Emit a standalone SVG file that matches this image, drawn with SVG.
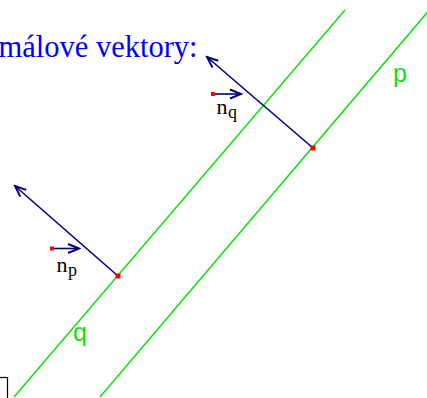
<svg xmlns="http://www.w3.org/2000/svg" width="427" height="398" viewBox="0 0 427 398">
<style>
.line{stroke:#11e011;stroke-width:1.5;fill:none}
.vec{stroke:#000080;stroke-width:1.6;fill:none}
.pt{fill:#ff0000}
.lbl{font-family:"Liberation Sans",Arial,sans-serif;font-size:25px;fill:#11e011}
.nm{font-family:"Liberation Serif","Times New Roman",serif;fill:#000}
.title{font-family:"Liberation Serif","Times New Roman",serif;font-size:30.5px;fill:#0000ff}
</style>
<defs>
<marker id="ah" markerUnits="userSpaceOnUse" markerWidth="16" markerHeight="16" refX="0" refY="0" viewBox="-14 -8 16 16" orient="auto">
<path d="M-11,-4.5 L0,0 L-11,4.5" stroke="#000080" stroke-width="2" fill="none"/>
</marker>
</defs>
<rect width="427" height="398" fill="#fff"/>
<g id="title"><text class="title" x="-1.5" y="57">málové vektory:</text></g>
<g id="lines">
<line id="line-q" class="line" x1="345" y1="10" x2="14" y2="397"/>
<line id="line-p" class="line" x1="437" y1="1" x2="100" y2="397"/>
</g>
<g id="connectors">
<line class="vec" x1="313" y1="148" x2="207" y2="57" marker-end="url(#ah)"/>
<line class="vec" x1="118" y1="276" x2="15" y2="186" marker-end="url(#ah)"/>
<line class="vec" x1="213" y1="94" x2="241" y2="94" marker-end="url(#ah)"/>
<line class="vec" x1="52" y1="248.5" x2="79" y2="248.5" marker-end="url(#ah)"/>
</g>
<g id="point-p"><rect class="pt" x="310.5" y="145.5" width="5" height="5"/></g>
<g id="point-q"><rect class="pt" x="115.5" y="273.5" width="5" height="5"/></g>
<g id="nq-start"><rect class="pt" x="211" y="92" width="4" height="4"/></g>
<g id="np-start"><rect class="pt" x="50" y="246.5" width="4" height="4"/></g>
<g id="label-nq"><text class="nm" x="216.5" y="113.5" font-size="22">n</text><text class="nm" x="228" y="118" font-size="18">q</text></g>
<g id="label-np"><text class="nm" x="56.5" y="271.5" font-size="22">n</text><text class="nm" x="68" y="276" font-size="18">p</text></g>
<g id="label-p"><text class="lbl" x="393" y="82">p</text></g>
<g id="label-q"><text class="lbl" x="73" y="341">q</text></g>
<g id="box"><rect x="-10" y="377.5" width="17.5" height="30" fill="#fff" stroke="#000" stroke-width="1.2"/></g>
</svg>
